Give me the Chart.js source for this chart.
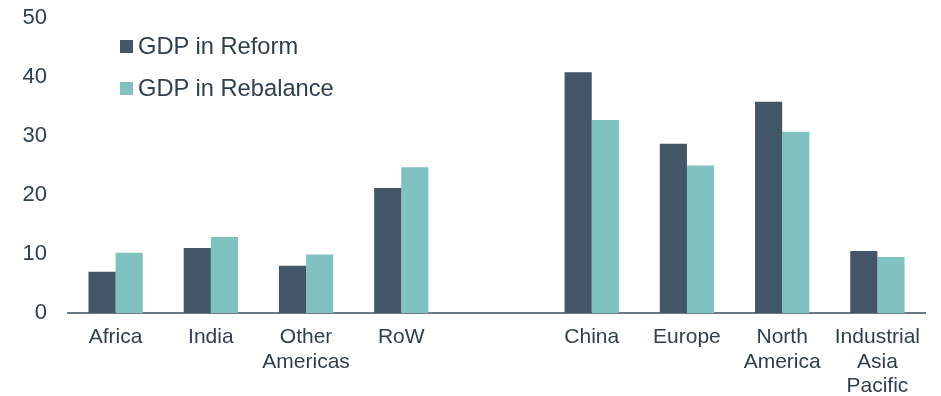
<!DOCTYPE html>
<html>
<head>
<meta charset="utf-8">
<script src="https://cdn.jsdelivr.net/npm/chart.js@4/dist/chart.umd.min.js"></script>
<style>
  html, body { margin: 0; padding: 0; background: #ffffff; }
  #wrap { position: relative; width: 941px; height: 396px; }
  #legend { position: absolute; left: 120px; top: 25px; font-family: "Liberation Sans", Arial, sans-serif; font-size: 23.7px; color: #2e3f4f; }
  #legend div { display: flex; align-items: center; height: 42px; }
  #legend span.sw { display: inline-block; width: 13px; height: 13px; margin-right: 5px; }
</style>
</head>
<body>
<div id="wrap">
  <canvas id="c" width="941" height="396"></canvas>
  <div id="legend"></div>
</div>
<script>
// Regions (blank slot separates the two groups)
const categories = ['Africa', 'India', ['Other', 'Americas'], 'RoW', '', 'China', 'Europe', ['North', 'America'], ['Industrial', 'Asia', 'Pacific']];
const seriesNames = ['GDP in Reform', 'GDP in Rebalance'];
const gdpReform = [7.0, 11.0, 8.0, 21.2, null, 40.8, 28.7, 35.8, 10.5];
const gdpRebalance = [10.2, 12.9, 9.9, 24.7, null, 32.7, 25.0, 30.7, 9.5];
const yTicks = [0, 10, 20, 30, 40, 50];

const colors = ['#425667', '#7fc2c1'];
const textColor = '#2e3f4f';
const fontFamily = '"Liberation Sans", Arial, sans-serif';

// Legend as HTML text
const legendEl = document.getElementById('legend');
seriesNames.forEach((name, i) => {
  const row = document.createElement('div');
  const sw = document.createElement('span');
  sw.className = 'sw';
  sw.style.background = colors[i];
  row.appendChild(sw);
  row.appendChild(document.createTextNode(name));
  legendEl.appendChild(row);
});

new Chart(document.getElementById('c'), {
  type: 'bar',
  data: {
    labels: categories,
    datasets: [
      { label: seriesNames[0], data: gdpReform, backgroundColor: colors[0] },
      { label: seriesNames[1], data: gdpRebalance, backgroundColor: colors[1] }
    ]
  },
  options: {
    responsive: false,
    animation: false,
    devicePixelRatio: 1,
    layout: { padding: { top: 18, right: 16, left: 0, bottom: 0 } },
    datasets: { bar: { categoryPercentage: 0.57, barPercentage: 1.0 } },
    plugins: { legend: { display: false }, tooltip: { enabled: false } },
    scales: {
      x: {
        grid: { display: false, drawTicks: false },
        border: { display: true, color: '#6b7a85', width: 2 },
        ticks: { color: textColor, font: { family: fontFamily, size: 21, lineHeight: 1.17 }, padding: 12, maxRotation: 0, autoSkip: false },
        afterFit: (s) => { s.height = 83; s.paddingLeft = 0; s.paddingRight = 0; }
      },
      y: {
        min: 0, max: 50,
        afterBuildTicks: (s) => { s.ticks = yTicks.map(v => ({ value: v })); },
        grid: { display: false, drawTicks: false },
        border: { display: false },
        ticks: { color: textColor, font: { family: fontFamily, size: 22 }, padding: 21 },
        afterFit: (s) => { s.width = 68; s.paddingTop = 0; s.paddingBottom = 0; }
      }
    }
  }
});
</script>
</body>
</html>
